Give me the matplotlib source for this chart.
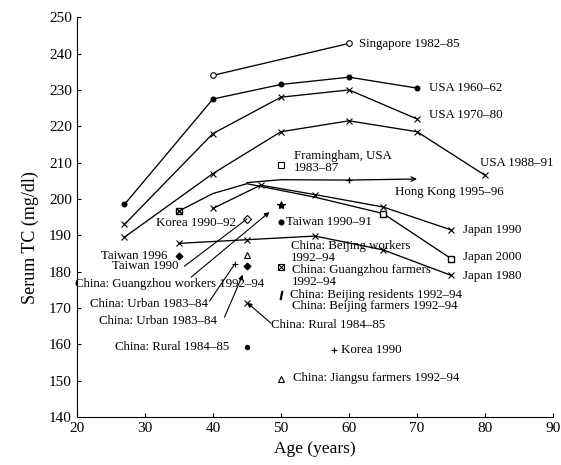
import matplotlib.pyplot as plt

plt.rcParams['font.family'] = ['Liberation Serif', 'DejaVu Serif']

# andmed: vanus ja seerumi TC (mg/dl)
singapore_age = [40, 60]
singapore_tc = [234, 242.8]

usa6062_age = [27, 40, 50, 60, 70]
usa6062_tc = [198.5, 227.5, 231.5, 233.5, 230.5]

usa7080_age = [27, 40, 50, 60, 70]
usa7080_tc = [193, 218, 228, 230, 222]

usa8891_age = [27, 40, 50, 60, 70, 80]
usa8891_tc = [189.5, 207, 218.5, 221.5, 218.5, 206.5]

hongkong_age = [45, 50, 60, 70]
hongkong_tc = [204.5, 205.3, 205.2, 205.5]

japan1980_age = [35, 45, 55, 65, 75]
japan1980_tc = [187.8, 188.8, 189.8, 186, 179]

japan1990_age = [40, 47, 55, 65, 75]
japan1990_tc = [197.4, 203.8, 201.2, 197.8, 191.5]

japan2000_age = [35, 40, 45, 55, 65, 75]
japan2000_tc = [196.7, 201.5, 204.2, 200.5, 196, 183.6]

# üksikpunktid
framingham = (50, 209.3)
taiwan9091 = (50, 193.7)
gz_workers = (50, 198.3)
taiwan1990 = (45, 194.5)
taiwan1996 = (35, 184.3)
urban_a = (45, 184.5)
urban_b = (45, 181.5)
urban_c = (43.2, 182.1)
urban_d = (44.4, 179.2)
gz_farmers = (50, 181.3)
bj_residents = (50, 173.5)
rural_a = (45, 171.5)
rural_b = (45, 159.4)
korea1990 = (57.8, 158.4)
jiangsu = (50, 150.6)

xticks = [20, 30, 40, 50, 60, 70, 80, 90]
yticks = [140, 150, 160, 170, 180, 190, 200, 210, 220, 230, 240, 250]

fig = plt.figure(figsize=(5.61, 4.65), dpi=100)
ax = fig.add_axes([0.137, 0.103, 0.849, 0.86])

lw = 0.95
ms = 4
fs = 9.3

def joon(x, y, marker, mfc='black', size=ms):
    ax.plot(x, y, color='black', lw=lw, marker=marker, ms=size,
            mfc=mfc, mec='black', mew=0.8)

def punkt(p, marker, mfc='black', size=ms):
    ax.plot([p[0]], [p[1]], ls='none', marker=marker, ms=size,
            mfc=mfc, mec='black', mew=0.8, color='black')

joon(singapore_age, singapore_tc, 'o', 'white')
joon(usa6062_age, usa6062_tc, 'o', 'black', 3.5)
joon(usa7080_age, usa7080_tc, 'x')
joon(usa8891_age, usa8891_tc, 'x')
joon(hongkong_age[:-1], hongkong_tc[:-1], '', 'black')
ax.annotate('', xy=(hongkong_age[-1], hongkong_tc[-1]),
            xytext=(hongkong_age[-2], hongkong_tc[-2]),
            arrowprops=dict(arrowstyle='->', color='black', lw=lw,
                            mutation_scale=8, shrinkA=0, shrinkB=0))
ax.plot([60], [205.2], marker='+', ms=5, color='black')
joon(japan1980_age, japan1980_tc, 'x')
joon(japan1990_age, japan1990_tc, 'x')
joon(japan2000_age, japan2000_tc, '')
ax.plot([65, 75], [196, 183.6], ls='none', marker='s', ms=4, mfc='white', mec='black')
ax.plot([35], [196.7], ls='none', marker='s', ms=4.5, mfc='white', mec='black')
ax.plot([35], [196.7], ls='none', marker='x', ms=4.5, color='black')

punkt(framingham, 's', 'white')
punkt(taiwan9091, 'o', 'black', 3.5)
punkt(gz_workers, '*', 'black', 6)
punkt(taiwan1990, 'D', 'white', 4)
punkt(taiwan1996, 'D', 'black', 3.5)
punkt(urban_a, '^', 'white', 4)
punkt(urban_b, 'D', 'black', 3.5)
punkt(urban_c, '+', 'black', 5)
punkt(gz_farmers, 's', 'white', 4.5)
punkt(gz_farmers, 'x', 'black', 4.5)
punkt(bj_residents, '$I$', 'black', 6)
punkt(rural_a, 'x', 'black', 5)
punkt(rural_b, 'o', 'black', 3)
punkt(korea1990, '+', 'black', 5)
punkt(jiangsu, '^', 'white', 4.5)

def silt(x, y, s):
    ax.text(x, y, s, fontsize=fs, ha='left', va='center', linespacing=1.0)

silt(61.4, 242.5, 'Singapore 1982–85')
silt(71.7, 230.4, 'USA 1960–62')
silt(71.7, 223.1, 'USA 1970–80')
silt(79.3, 209.8, 'USA 1988–91')
silt(51.9, 210.3, 'Framingham, USA\n1983–87')
silt(66.7, 202.0, 'Hong Kong 1995–96')
silt(76.7, 191.6, 'Japan 1990')
silt(76.7, 184.0, 'Japan 2000')
silt(76.7, 178.8, 'Japan 1980')
silt(50.8, 193.7, 'Taiwan 1990–91')
silt(31.7, 193.3, 'Korea 1990–92')
silt(23.6, 184.4, 'Taiwan 1996')
silt(25.2, 181.5, 'Taiwan 1990')
silt(19.7, 176.6, 'China: Guangzhou workers 1992–94')
silt(21.9, 171.1, 'China: Urban 1983–84')
silt(23.3, 166.4, 'China: Urban 1983–84')
silt(48.6, 165.3, 'China: Rural 1984–85')
silt(25.6, 159.3, 'China: Rural 1984–85')
silt(51.5, 185.5, 'China: Beijing workers\n1992–94')
silt(51.6, 178.7, 'China: Guangzhou farmers\n1992–94')
silt(51.3, 173.7, 'China: Beijing residents 1992–94')
silt(51.6, 170.5, 'China: Beijing farmers 1992–94')
silt(58.8, 158.4, 'Korea 1990')
silt(51.8, 150.7, 'China: Jiangsu farmers 1992–94')

# viitejooned siltidelt punktideni
viited = [
    ((35.8, 181.5), taiwan1990, '-'),
    ((36.8, 178.5), (48.3, 196.4), '-|>'),
    ((39.5, 171.9), urban_c, '-'),
    ((41.7, 167.5), urban_d, '-|>'),
    ((48.5, 165.9), rural_a, '-|>'),
]
for algus, lopp, stiil in viited:
    ax.annotate('', xy=lopp, xytext=algus,
                arrowprops=dict(arrowstyle=stiil, color='black', lw=0.8,
                                mutation_scale=7, shrinkA=0, shrinkB=0))

ax.set_xlim(20, 90)
ax.set_ylim(140, 250)
ax.set_xticks(xticks)
ax.set_yticks(yticks)
ax.tick_params(direction='in', length=3, labelsize=11, width=0.8)
ax.spines['top'].set_visible(False)
ax.spines['right'].set_visible(False)
ax.set_xlabel('Age (years)', fontsize=12.5)
ax.set_ylabel('Serum TC (mg/dl)', fontsize=13)
ax.yaxis.set_label_coords(-0.08, 0.45)

fig.savefig('out.png', dpi=100)
